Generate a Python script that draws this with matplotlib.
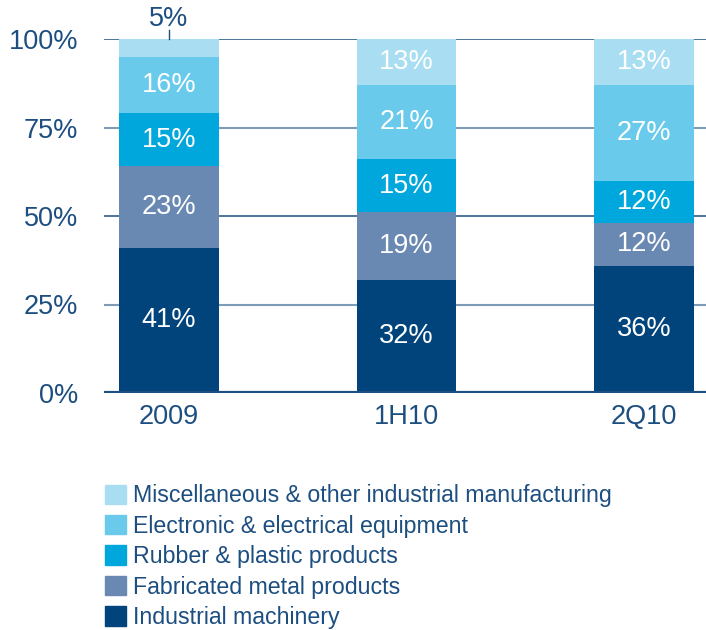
import matplotlib.pyplot as plt
import numpy as np
from matplotlib.patches import Patch

plt.rcParams["font.family"] = ["Liberation Sans", "DejaVu Sans"]

periods = ["2009", "1H10", "2Q10"]
segments = [
    "Industrial machinery",
    "Fabricated metal products",
    "Rubber & plastic products",
    "Electronic & electrical equipment",
    "Miscellaneous & other industrial manufacturing",
]
machinery = [41, 32, 36]
metal = [23, 19, 12]
rubber = [15, 15, 12]
electronic = [16, 21, 27]
misc = [5, 13, 13]

series = [machinery, metal, rubber, electronic, misc]
colors = ["#00447B", "#6A89B2", "#00A7DC", "#69CAEB", "#A9DEF2"]
NAVY = "#1C4E80"

fig = plt.figure(figsize=(7.06, 6.30), dpi=100)
ax = fig.add_axes([104 / 706, 1 - 393 / 630, 1 - 104 / 706, 354 / 630])

x = np.arange(len(periods))
width = 0.42
bottom = np.zeros(len(periods))
for vals, color in zip(series, colors):
    vals = np.array(vals, dtype=float)
    ax.bar(x, vals, width, bottom=bottom, color=color, zorder=3)
    for xi, b, v in zip(x, bottom, vals):
        if v >= 10:
            ax.text(xi, b + v / 2, f"{int(v)}%", ha="center", va="center",
                    color="white", fontsize=19.5, zorder=4)
        else:
            # small slice: label sits above the bar with a leader tick
            ax.plot([xi, xi], [b + v, b + v + 2.5], color=NAVY, lw=1, zorder=4,
                    clip_on=False)
            ax.text(xi, b + v + 2.0, f"{int(v)}%", ha="center", va="bottom",
                    color=NAVY, fontsize=19.5, zorder=4)
    bottom += vals

for y, c, lw in [(25, "#7E9CB8", 1.5), (50, NAVY, 1.1), (75, "#7E9CB8", 1.5), (100, NAVY, 1.1)]:
    ax.axhline(y, color=c, lw=lw, zorder=1)
ax.axhline(0, color=NAVY, lw=3, zorder=5)

ax.set_xlim(-0.274, 2.261)
ax.set_ylim(0, 100)
ax.set_yticks([0, 25, 50, 75, 100], ["0%", "25%", "50%", "75%", "100%"])
ax.set_xticks(x, periods)
ax.tick_params(axis="both", length=0, labelsize=19.5, colors=NAVY)
ax.tick_params(axis="y", pad=18.5)
ax.tick_params(axis="x", pad=8)
for s in ax.spines.values():
    s.set_visible(False)

handles = [Patch(color=c, label=l) for c, l in zip(colors[::-1], segments[::-1])]
leg = fig.legend(handles=handles, loc="upper left", bbox_to_anchor=(96 / 706, 1 - 475 / 630),
                 frameon=False, fontsize=16.7, handlelength=0.9, handleheight=0.9,
                 handletextpad=0.3, labelspacing=0.32, borderaxespad=0)
for t in leg.get_texts():
    t.set_color(NAVY)

fig.savefig("out.png", dpi=100, facecolor="white")
